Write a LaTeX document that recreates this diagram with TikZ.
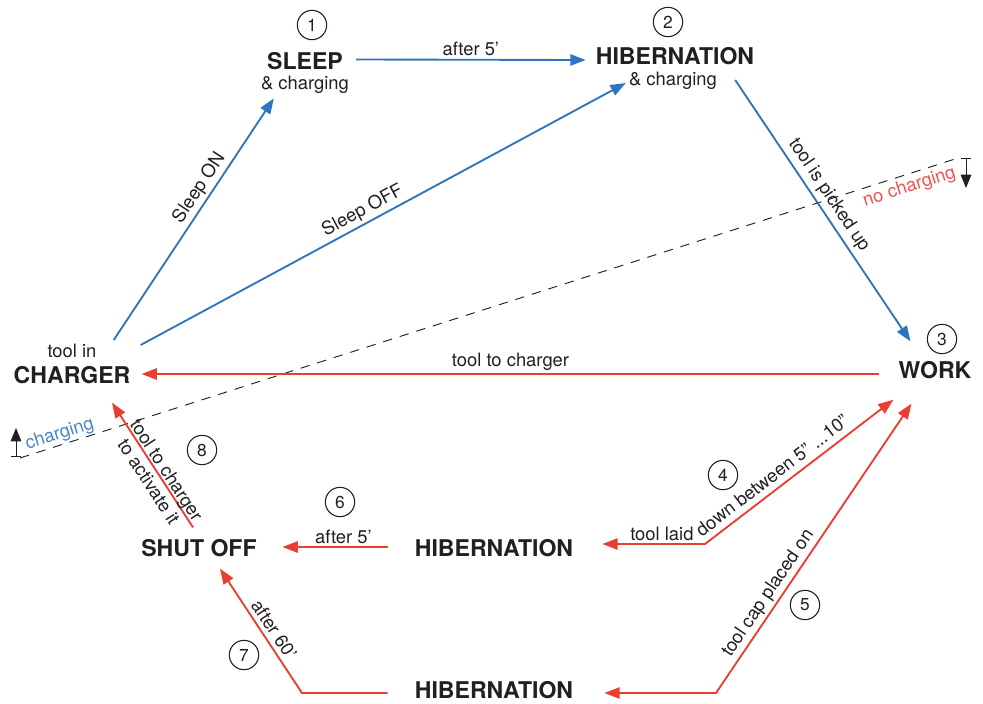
\documentclass[tikz,border=0pt]{standalone}
\usepackage{fontspec}
\setmainfont{TeX Gyre Heros}
\usetikzlibrary{calc}
\usetikzlibrary{arrows.meta}

\definecolor{inkgray}{RGB}{35,31,32}
\definecolor{flowblue}{RGB}{45,117,192}
\definecolor{flowred}{RGB}{234,62,52}
\definecolor{softblue}{RGB}{72,132,204}
\definecolor{softred}{RGB}{242,82,74}

\tikzset{
  state/.style={inner sep=0pt, text=inkgray, font=\fontsize{17.3}{20}\selectfont\bfseries},
  sub/.style={inner sep=0pt, text=inkgray, font=\fontsize{13.8}{16}\selectfont},
  lbl/.style={inner sep=2pt, text=inkgray, font=\fontsize{13.8}{16}\selectfont},
  zonelbl/.style={inner sep=1pt, sloped, font=\fontsize{13.8}{16}\selectfont},
  num/.style={circle, draw=inkgray, line width=0.8pt, minimum size=22pt, inner sep=0pt, text=inkgray, font=\fontsize{13}{15}\selectfont},
  blueflow/.style={flowblue, line width=1.4pt, ->},
  redflow/.style={flowred, line width=1.4pt, ->},
}

\begin{document}
\begin{tikzpicture}[x=0.75pt, y=-0.75pt, >={Triangle[length=11.5pt,width=8.5pt]}]
\useasboundingbox (0,0) rectangle (983,704);

% states
\node[sub]   (toolin)   at (72,351)  {tool in};
\node[state] (charger)  at (72,375)  {CHARGER};
\node[state] (sleep)    at (305,61)  {SLEEP};
\node[sub]   (sleepsub) at (305,85)  {\& charging};
\node[state] (hib)      at (675,56)  {HIBERNATION};
\node[sub]   (hibsub)   at (673,81)  {\& charging};
\node[state] (work)     at (935,370) {WORK};
\node[state] (shutoff)  at (199,548) {SHUT OFF};
\node[state] (hibmid)   at (494,548) {HIBERNATION};
\node[state] (hibbot)   at (494,690) {HIBERNATION};

% step numbers
\foreach \n/\x/\y in {1/312/25, 2/668/22, 3/942/339, 4/723/475, 5/805/605, 6/340/502, 7/244/655, 8/202/450} {
  \node[num] (num\n) at (\x,\y) {\n};
}

% corners
\coordinate (c4) at (705,544);
\coordinate (c5) at (716,693);
\coordinate (c7) at (302,693);

% charging zone
\coordinate (dashL) at (20,458);
\coordinate (dashR) at (955,159);
\coordinate (mkLlow) at (16,457);
\coordinate (mkLtop) at (16,428);
\coordinate (mkRtop) at (966,158);
\coordinate (mkRlow) at (966,188);
\draw[inkgray, line width=0.7pt, dash pattern=on 7pt off 6pt] (dashL) --
  node[zonelbl, above, pos=0.046, text=softblue] (lblchg) {charging}
  node[zonelbl, below=2pt, pos=0.947, text=softred] (lblnochg) {no charging} (dashR);
\draw[inkgray, line width=0.6pt, {Bar[width=7pt]}-{Triangle[length=10pt,width=8pt]}] (mkLlow) -- (mkLtop);
\draw[inkgray, line width=0.6pt, {Bar[width=7pt]}-{Triangle[length=10pt,width=8pt]}] (mkRtop) -- (mkRlow);

% blue transitions
\draw[blueflow] ([shift={(13,-1.5)}]sleep.east) -- node[lbl, above] (lblsh) {after 5’} ([shift={(-10,4)}]hib.west);
\draw[blueflow] ([shift={(17,-11)}]toolin.east) -- node[lbl, above, sloped, pos=0.6] (lblon) {Sleep ON} ([shift={(13,4.4)}]sleepsub.south west);
\draw[blueflow] ([shift={(44,-6)}]toolin.east) -- node[lbl, above, sloped, pos=0.47] (lbloff) {Sleep OFF} ([shift={(-3,2)}]hibsub.west);
\draw[blueflow] ([shift={(18,-1)}]hibsub.east) -- node[lbl, above=1pt, sloped, pos=0.47] (lblpick) {tool is picked up} ([shift={(12,-19.7)}]work.north west);

% red transitions
\draw[redflow] ([shift={(-19,4)}]work.west) -- node[lbl, above] (lblback) {tool to charger} ([shift={(11,-1)}]charger.east);
\draw[redflow, <->] ([shift={(29,-4)}]hibmid.east) -- node[lbl, above, pos=0.58] (lbllaid) {tool laid} (c4)
  -- node[lbl, above=2.5pt, sloped, pos=0.4] (lbldown) {down between 5” ...10”} ([shift={(-5,20.7)}]work.south west);
\draw[redflow, <->] ([shift={(31,3)}]hibbot.east) -- (c5)
  -- node[lbl, above, sloped, pos=0.32] (lblcap) {tool cap placed on} ([shift={(13,24.7)}]work.south west);
\draw[redflow] ([shift={(-27,-1)}]hibmid.west) -- node[lbl, above, pos=0.42] (lblfive) {after 5’} ([shift={(25.5,-1)}]shutoff.east);
\draw[redflow] ([shift={(-27,3)}]hibbot.west) -- (c7)
  -- node[lbl, above=1pt, sloped, pos=0.46] (lblsixty) {after 60’} ([shift={(21,11.7)}]shutoff.south);
\draw[redflow] ([shift={(-6,-11.7)}]shutoff.north) -- node[lbl, sloped, align=center, pos=0.42, yshift=-1pt] (lblact) {tool to charger\\to activate it} ([shift={(40,18.7)}]charger.south);
\end{tikzpicture}
\end{document}
